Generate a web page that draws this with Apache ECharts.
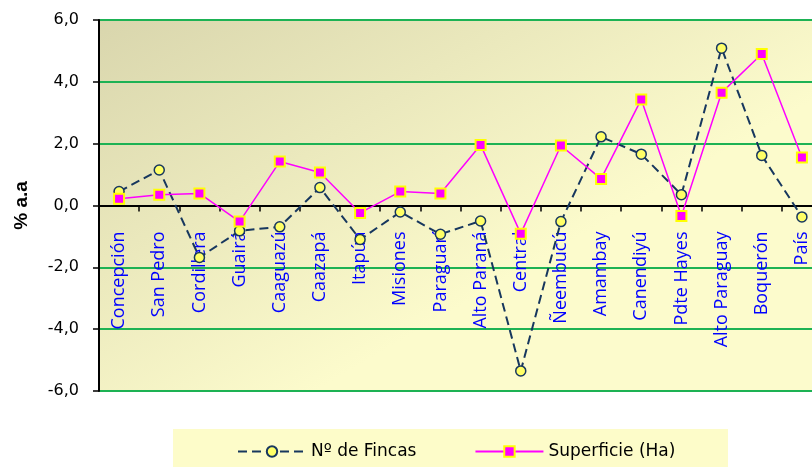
<!DOCTYPE html>
<html>
<head>
<meta charset="utf-8">
<script src="https://cdn.jsdelivr.net/npm/echarts@6/dist/echarts.min.js"></script>
<style>
html,body{margin:0;padding:0;background:#fff;}
#chart{width:812px;height:468px;}
</style>
</head>
<body>
<div id="chart"></div>
<script>
const categories = ['Concepción','San Pedro','Cordillera','Guairá','Caaguazú','Caazapá','Itapúa','Misiones','Paraguarí','Alto Paraná','Central','Ñeembucú','Amambay','Canendiyú','Pdte Hayes','Alto Paraguay','Boquerón','País'];
const fincas = [0.45, 1.15, -1.68, -0.82, -0.69, 0.58, -1.10, -0.21, -0.93, -0.50, -5.35, -0.52, 2.22, 1.66, 0.35, 5.09, 1.62, -0.37];
const superficie = [0.22, 0.35, 0.39, -0.52, 1.42, 1.07, -0.24, 0.45, 0.39, 1.96, -0.91, 1.94, 0.86, 3.43, -0.34, 3.65, 4.90, 1.55];
const seriesNames = ['Nº de Fincas', 'Superficie (Ha)'];
const yAxisName = '% a.a';

const chart = echarts.init(document.getElementById('chart'), null, {renderer:'canvas'});
chart.setOption({
  animation: false,
  backgroundColor: '#ffffff',
  graphic: [{
    type: 'rect', left: 173, top: 429, z: -1,
    shape: {width: 555, height: 38},
    style: {fill: '#fdfcc9'}
  }],
  grid: {
    left: 99, top: 20, width: 723, height: 371,
    outerBoundsMode: 'none', containLabel: false,
    show: true, borderWidth: 0,
    backgroundColor: new echarts.graphic.LinearGradient(0, 0, 0.3, 1, [
      {offset: 0, color: '#d9d6ad'},
      {offset: 1, color: '#fcfbcc'}
    ])
  },
  legend: {
    left: 237, top: 443, padding: 0,
    itemWidth: 68, itemHeight: 13, itemGap: 58,
    textStyle: {fontFamily: 'DejaVu Sans', fontSize: 17, color: '#000'},
    data: seriesNames
  },
  xAxis: {
    type: 'category',
    data: categories,
    position: 'bottom',
    offset: -185.5,
    axisLine: {onZero: false, lineStyle: {color: '#000', width: 2}},
    axisTick: {show: true, length: 6, lineStyle: {color: '#000', width: 1.5}},
    axisLabel: {
      rotate: 90, margin: 26, interval: 0,
      color: '#0000ff', fontFamily: 'Open Sans', fontSize: 18
    },
    splitLine: {show: false}
  },
  yAxis: {
    type: 'value', min: -6, max: 6, interval: 2,
    name: yAxisName, nameLocation: 'middle', nameRotate: 90, nameGap: 68,
    nameTextStyle: {fontFamily: 'Liberation Sans', fontWeight: 'bold', fontSize: 19, color: '#000'},
    axisLine: {show: true, lineStyle: {color: '#000', width: 2}},
    axisTick: {show: true, length: 6, lineStyle: {color: '#000', width: 1.5}},
    axisLabel: {
      margin: 20, color: '#000', fontFamily: 'DejaVu Sans', fontSize: 16,
      formatter: v => v.toFixed(1).replace('.', ',')
    },
    splitLine: {show: true, lineStyle: {color: '#1db254', width: 2}}
  },
  series: [
    {
      name: seriesNames[0], type: 'line', data: fincas,
      symbol: 'circle', symbolSize: 10,
      lineStyle: {color: '#17375e', width: 2, type: [9, 5]},
      itemStyle: {color: '#ffff66', borderColor: '#17375e', borderWidth: 1.5},
      z: 2
    },
    {
      name: seriesNames[1], type: 'line', data: superficie,
      symbol: 'rect', symbolSize: 10,
      lineStyle: {color: '#ff00ff', width: 1.5},
      itemStyle: {color: '#ff00ff', borderColor: '#ffff00', borderWidth: 2},
      z: 3
    }
  ]
});
</script>
</body>
</html>
